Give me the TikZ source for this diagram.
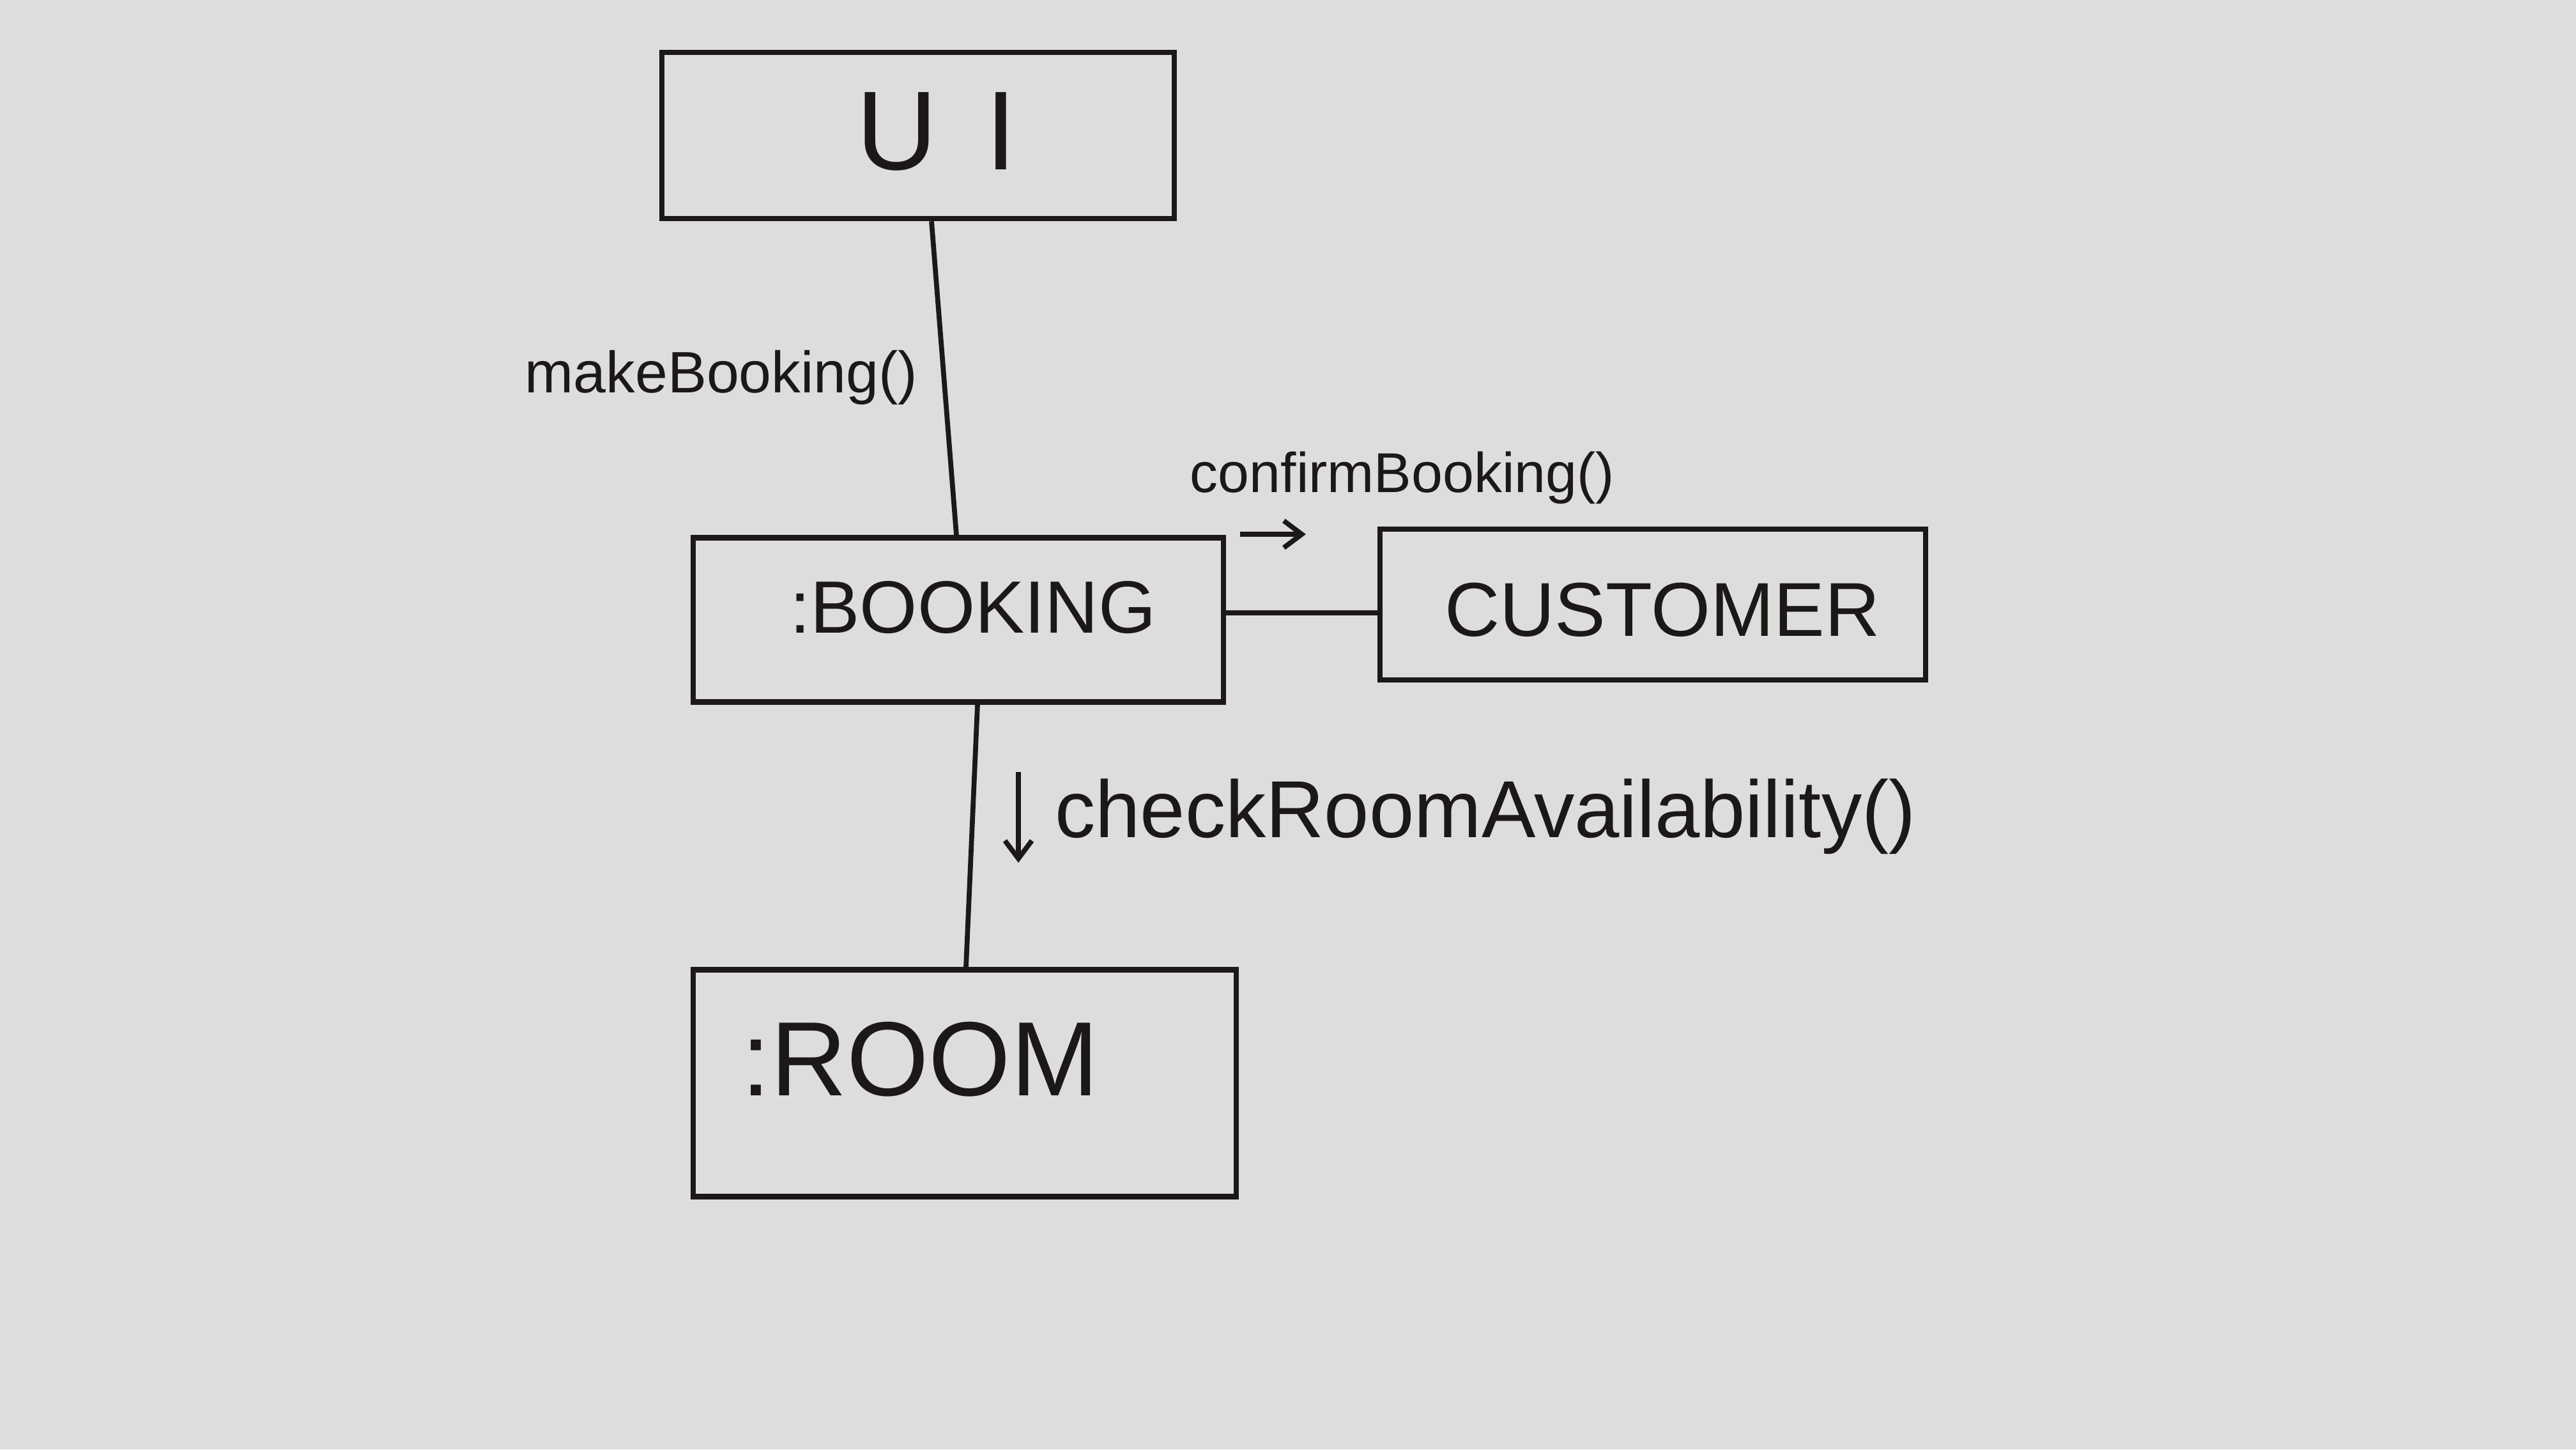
\documentclass[tikz,border=0pt]{standalone}
\usepackage{fontspec}
\setmainfont{Liberation Sans}
\usetikzlibrary{arrows.meta}
\definecolor{board}{RGB}{221,221,219}
\definecolor{ink}{RGB}{28,24,24}
\tikzset{
  objbox/.style={draw=ink, line width=2.4pt, rectangle, inner sep=0pt},
  conn/.style={draw=ink, line width=2.2pt},
  lbl/.style={text=ink, inner sep=0pt},
  dirarrow/.style={draw=ink, line width=2.2pt, -{Straight Barb[length=8pt,width=12pt]}}
}
\begin{document}
\begin{tikzpicture}
\fill[board] (0,0) rectangle (40.32,-22.68);
\useasboundingbox (0,0) rectangle (40.32,-22.68);

% boxes
\node[objbox, minimum width=8.02cm, minimum height=2.60cm] (ui) at (14.37,-2.12) {};
\node[objbox, minimum width=8.30cm, minimum height=2.57cm] (booking) at (15.00,-9.70) {};
\node[objbox, minimum width=8.54cm, minimum height=2.36cm] (customer) at (25.87,-9.46) {};
\node[objbox, minimum width=8.50cm, minimum height=3.55cm] (room) at (15.10,-16.95) {};

% box texts
\node[lbl, font=\fontsize{50}{50}\selectfont] (uit) at (14.66,-2.06) {U\kern0.75cm I};
\node[lbl, font=\fontsize{33}{33}\selectfont] (bookingt) at (15.23,-9.51) {:BOOKING};
\node[lbl, font=\fontsize{34}{34}\selectfont] (customert) at (26.02,-9.54) {CUSTOMER};
\node[lbl, font=\fontsize{47}{47}\selectfont] (roomt) at (14.40,-16.58) {:ROOM};

% connectors
\draw[conn] ([xshift=0.21cm]ui.south) -- ([xshift=-0.03cm]booking.north);
\coordinate (bc1) at (19.15,-9.59);
\coordinate (bc2) at (21.60,-9.59);
\draw[conn] (booking.east |- bc1) -- (customer.west |- bc2);
\draw[conn] ([xshift=0.30cm]booking.south) -- ([xshift=0.02cm]room.north);

% message labels
\node[lbl, font=\fontsize{26}{26}\selectfont] (mb) at (11.29,-5.91) {makeBooking()};
\node[lbl, font=\fontsize{25}{25}\selectfont] (cb) at (21.95,-7.48) {confirmBooking()};
\node[lbl, font=\fontsize{36}{36}\selectfont] (cr) at (23.25,-12.78) {checkRoomAvailability()};

% direction arrows
\coordinate (a1s) at (19.41,-8.36);
\coordinate (a1e) at (20.44,-8.36);
\draw[dirarrow] (a1s) -- (a1e);
\coordinate (a2s) at (15.94,-12.08);
\coordinate (a2e) at (15.94,-13.50);
\draw[dirarrow] (a2s) -- (a2e);
\end{tikzpicture}
\end{document}
